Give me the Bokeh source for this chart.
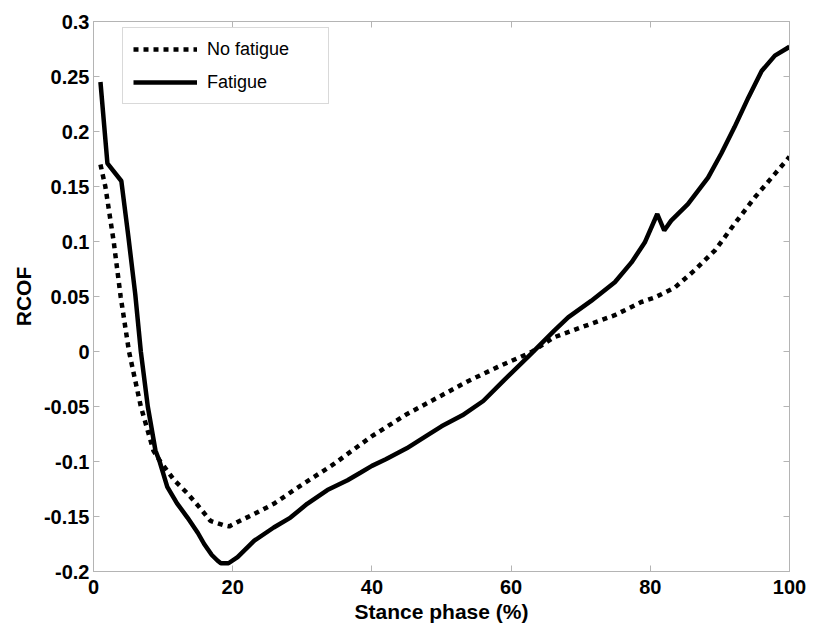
from bokeh.plotting import figure
from bokeh.models import LinearAxis, Legend, LegendItem, FixedTicker, Range1d, CustomLabelingPolicy
from bokeh.embed import file_html
from bokeh.resources import INLINE

# ---- data ----
fatigue_x = [1, 2, 4, 5, 6, 6.8, 7.8, 8.9, 9.5, 10.6, 12, 13.5, 15, 15.9, 17, 17.8,
             18.3, 19.4, 20.7, 23.1, 25.9, 28.3, 30.7, 33.6, 36.5, 38.4, 40, 42, 45,
             48, 50, 53, 56, 59, 62.9, 66.2, 68.2, 71.5, 74.9, 77.3, 79.2, 81, 82, 83,
             85.4, 88.3, 90.2, 92.1, 94.1, 96, 97.9, 100]
fatigue_y = [0.245, 0.171, 0.155, 0.105, 0.052, 0.0, -0.05, -0.09, -0.1, -0.123, -0.138,
             -0.151, -0.165, -0.175, -0.185, -0.19, -0.1925, -0.1925, -0.187, -0.172,
             -0.16, -0.151, -0.1385, -0.126, -0.117, -0.11, -0.104, -0.098, -0.088,
             -0.076, -0.068, -0.058, -0.045, -0.026, -0.002, 0.019, 0.031, 0.046, 0.063,
             0.081, 0.099, 0.125, 0.110, 0.119, 0.134, 0.158, 0.180, 0.204, 0.231, 0.255,
             0.269, 0.277]

nofatigue_x = [1, 1.7, 2.9, 3.9, 5.1, 6.8, 8.6, 9.6, 11.6, 13.5, 15.4, 16.8, 18.7, 19.5,
               20.7, 23.1, 25.9, 28.8, 31.7, 34.6, 37.5, 40, 45, 50, 53.8, 58.1, 62.9,
               66.2, 70.1, 74.9, 78.7, 80.6, 83.5, 86.4, 89.3, 92.1, 95, 97.9, 100]
nofatigue_y = [0.17, 0.15, 0.1, 0.05, 0.0, -0.05, -0.09, -0.1, -0.117, -0.129, -0.143,
               -0.154, -0.158, -0.159, -0.155, -0.1476, -0.1385, -0.126, -0.114, -0.102,
               -0.0885, -0.077, -0.057, -0.04, -0.027, -0.014, -0.0006, 0.013, 0.022,
               0.033, 0.045, 0.049, 0.058, 0.074, 0.092, 0.116, 0.140, 0.1615, 0.177]

x_ticks = [0, 20, 40, 60, 80, 100]
y_ticks = [-0.2, -0.15, -0.1, -0.05, 0, 0.05, 0.1, 0.15, 0.2, 0.25, 0.3]
y_tick_labels = ["-0.2", "-0.15", "-0.1", "-0.05", "0", "0.05", "0.1", "0.15", "0.2", "0.25", "0.3"]

FONT = "Liberation Sans"
GRAY = "#b4b4b4"

p = figure(frame_width=696, frame_height=550, output_backend="svg", toolbar_location=None,
           x_range=Range1d(0, 100), y_range=Range1d(-0.2, 0.3),
           min_border_left=93, min_border_right=26, min_border_top=21, min_border_bottom=58)
p.outline_line_color = GRAY
p.xgrid.visible = False
p.ygrid.visible = False

r_nf = p.line(nofatigue_x, nofatigue_y, line_color="black", line_width=4.5, line_dash="5 5")
r_f = p.line(fatigue_x, fatigue_y, line_color="black", line_width=4.5)

def style(ax, labels=True):
    ax.axis_line_color = GRAY
    ax.major_tick_line_color = GRAY
    ax.major_tick_in = 6
    ax.major_tick_out = 0
    ax.minor_tick_line_color = None
    ax.major_label_text_font = FONT
    ax.major_label_text_font_style = "bold"
    ax.major_label_text_color = "black"
    if labels:
        ax.major_label_text_font_size = "20px"
    else:
        ax.major_label_text_font_size = "0px"
        ax.major_label_standoff = 0
        ax.major_label_policy = CustomLabelingPolicy(code="""
            for (const i of Array.from(indices)) { indices.unset(i) }
            return indices
        """)

xa = p.xaxis[0]
ya = p.yaxis[0]
xa.ticker = FixedTicker(ticks=x_ticks)
ya.ticker = FixedTicker(ticks=y_ticks)
ya.major_label_overrides = {t: l for t, l in zip(y_ticks, y_tick_labels)}
style(xa)
style(ya)
xa.major_label_standoff = 8
ya.major_label_standoff = 4
xa.axis_label = "Stance phase (%)"
ya.axis_label = "RCOF"
for ax in (xa, ya):
    ax.axis_label_text_font = FONT
    ax.axis_label_text_font_style = "bold"
    ax.axis_label_text_font_size = "21px"
    ax.axis_label_text_color = "black"
xa.axis_label_standoff = 3
ya.axis_label_standoff = 6

top = LinearAxis(ticker=FixedTicker(ticks=x_ticks))
right = LinearAxis(ticker=FixedTicker(ticks=y_ticks))
style(top, labels=False)
style(right, labels=False)
p.add_layout(top, "above")
p.add_layout(right, "right")

legend = Legend(items=[LegendItem(label="No fatigue", renderers=[r_nf]),
                       LegendItem(label="Fatigue", renderers=[r_f])],
                location=(29, 467))
legend.border_line_color = GRAY
legend.border_line_width = 1
legend.background_fill_color = "white"
legend.label_text_font = FONT
legend.label_text_font_size = "18px"
legend.label_text_color = "black"
legend.glyph_width = 64
legend.glyph_height = 22
legend.label_height = 22
legend.label_width = 111
legend.label_standoff = 10
legend.padding = 10
legend.spacing = 11
legend.margin = 0
p.add_layout(legend, "center")

open("out.html", "w").write(file_html(p, INLINE))
